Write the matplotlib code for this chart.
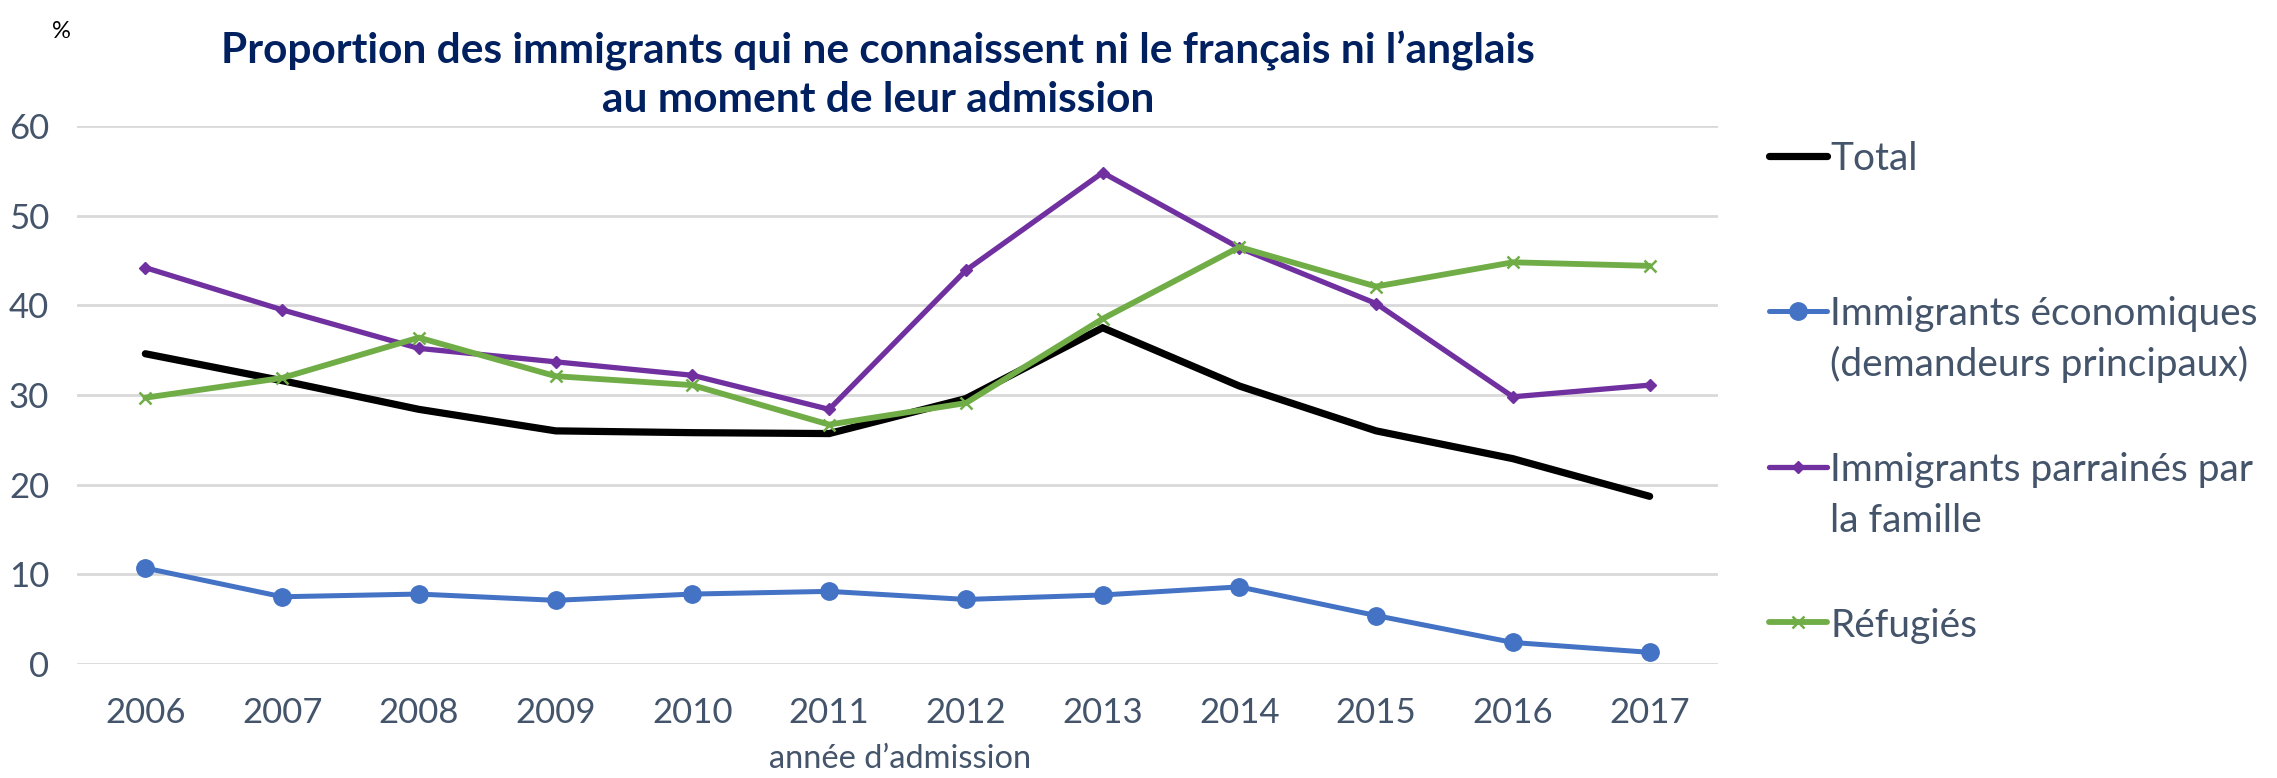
import matplotlib
matplotlib.use('Agg')
import matplotlib.pyplot as plt
from matplotlib.lines import Line2D

# Data
years = ['2006', '2007', '2008', '2009', '2010', '2011',
         '2012', '2013', '2014', '2015', '2016', '2017']
total = [34.6, 31.6, 28.4, 26.0, 25.8, 25.7, 29.6, 37.5, 31.0, 26.0, 22.9, 18.7]
economiques = [10.7, 7.5, 7.8, 7.1, 7.8, 8.1, 7.2, 7.7, 8.6, 5.4, 2.4, 1.3]
famille = [44.2, 39.5, 35.2, 33.7, 32.2, 28.4, 43.9, 54.8, 46.4, 40.2, 29.8, 31.1]
refugies = [29.7, 31.9, 36.4, 32.1, 31.1, 26.7, 29.1, 38.5, 46.5, 42.1, 44.8, 44.4]

labels = ['Total',
          'Immigrants économiques\n(demandeurs principaux)',
          'Immigrants parrainés par\nla famille',
          'Réfugiés']
title = 'Proportion des immigrants qui ne connaissent ni le français ni l\u2019anglais\nau moment de leur admission'
xlabel = 'année d\u2019admission'
yticks = [0, 10, 20, 30, 40, 50, 60]

W, H = 2277, 778
text_col = '#44546A'
plt.rcParams['font.family'] = ['Lato', 'DejaVu Sans']

fig = plt.figure(figsize=(W / 100, H / 100), dpi=100)
ax = fig.add_axes([77 / W, 1 - 664 / H, (1718 - 77) / W, (664 - 126) / H])

x = list(range(len(years)))
styles = [
    dict(color='black', lw=5.2, marker=None),
    dict(color='#4472C4', lw=3.6, marker='o', ms=12.5),
    dict(color='#7030A0', lw=3.8, marker='D', ms=6.5),
    dict(color='#70AD47', lw=4.2, marker='x', ms=9, mew=1.8),
]
series = [total, economiques, famille, refugies]
for vals, st in zip(series, styles):
    ax.plot(x, vals, solid_joinstyle='miter', solid_capstyle='round', zorder=3, **st)

ax.set_xlim(-0.5, len(years) - 0.5)
ax.set_ylim(0, 60)
ax.set_xticks(x)
ax.set_xticklabels(years)
ax.set_yticks(yticks)
ax.grid(axis='y', color='#D9D9D9', lw=2)
ax.set_axisbelow(True)
for s in ax.spines.values():
    s.set_visible(False)
ax.tick_params(length=0, labelsize=25, labelcolor=text_col)
ax.tick_params(axis='x', pad=24)
ax.tick_params(axis='y', pad=20)

fig.text(61 / W, 1 - 32 / H, '%', fontsize=17, color='black', ha='center', va='center')
fig.text(878 / W, 1 - 75 / H, title, fontsize=30.5, fontweight='bold', color='#002060',
         ha='center', va='center', linespacing=1.3)
fig.text(900 / W, 1 - 759 / H, xlabel, fontsize=23.5, color=text_col, ha='center', va='center')

# legend drawn by hand so the handle sits on the first text line
leg_y = [156, 311, 467, 622]
line_px = 50
for lab, st, yy in zip(labels, styles, leg_y):
    yf = 1 - yy / H
    ln = Line2D([1769 / W, 1827 / W], [yf, yf], transform=fig.transFigure,
                color=st['color'], lw=st['lw'], solid_capstyle='round')
    fig.add_artist(ln)
    if st['marker']:
        mk = Line2D([1798 / W], [yf], transform=fig.transFigure, color=st['color'],
                    marker=st['marker'], ms=st['ms'], mew=st.get('mew', 1), lw=0)
        fig.add_artist(mk)
    for i, part in enumerate(lab.split('\n')):
        fig.text(1830 / W, 1 - (yy + i * line_px) / H, part, fontsize=28, color=text_col,
                 ha='left', va='center_baseline')

fig.savefig('out.png', dpi=100)
